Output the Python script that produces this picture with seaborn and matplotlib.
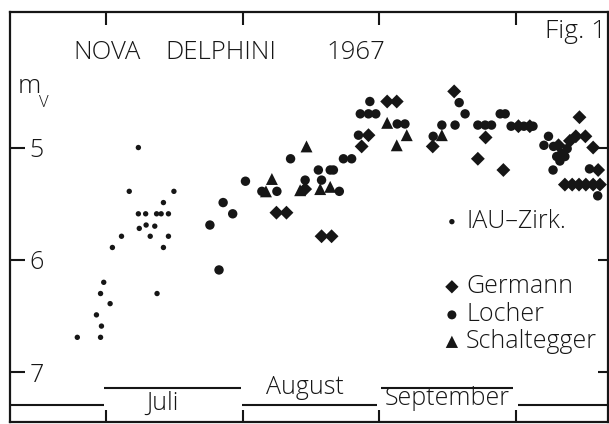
import matplotlib
matplotlib.use("Agg")
import matplotlib.pyplot as plt
import seaborn as sns
import pandas as pd

# ---------------- data (day scale: month ticks every 30 days) ----------------
month_ticks = [15, 45, 75, 105]
month_names = ["Juli", "August", "September"]
mag_ticks = [5, 6, 7]

iau_day = [22.1, 20.1, 29.9, 27.6, 22.1, 23.7, 26.1, 27.1, 28.7, 22.3, 23.8, 25.7,
           18.4, 24.7, 28.7, 16.4, 27.6, 14.5, 13.8, 26.2, 15.9, 12.9, 14.0, 8.7, 13.8]
iau_mag = [5.00, 5.39, 5.39, 5.49, 5.59, 5.59, 5.59, 5.59, 5.59, 5.72, 5.69, 5.70,
           5.79, 5.79, 5.79, 5.89, 5.89, 6.20, 6.30, 6.30, 6.39, 6.49, 6.59, 6.69, 6.69]

locher_day = [39.8, 37.8, 40.7, 42.8, 45.6, 52.5, 49.2, 55.5, 58.7, 62.3, 61.6, 64.2,
              64.9, 66.2, 67.1, 68.9, 70.4, 70.8, 72.6, 74.2, 72.9, 78.9, 80.6, 86.8,
              88.7, 91.6, 92.5, 93.8, 96.6, 98.2, 99.6, 101.5, 102.6, 103.9, 106.7, 108.7,
              112.1, 111.1, 113.2, 115.0, 115.7, 113.9, 114.6, 113.1, 121.1, 122.9, 116.2]
locher_mag = [6.09, 5.69, 5.49, 5.59, 5.30, 5.39, 5.39, 5.10, 5.29, 5.29, 5.20, 5.20,
              5.20, 5.39, 5.10, 5.10, 4.89, 4.70, 4.70, 4.70, 4.59, 4.79, 4.79, 4.90,
              4.80, 4.80, 4.60, 4.70, 4.80, 4.80, 4.80, 4.70, 4.70, 4.81, 4.81, 4.81,
              4.90, 4.98, 4.99, 5.05, 5.08, 5.08, 5.12, 5.20, 5.19, 5.43, 5.01]

germann_day = [52.4, 54.6, 62.3, 64.5, 58.7, 72.6, 71.1, 76.7, 78.8, 86.7, 91.4, 98.3,
               96.6, 102.2, 105.5, 108.0, 118.9, 118.1, 120.2, 121.9, 114.3, 116.8, 123.0,
               115.7, 117.3, 118.8, 120.3, 121.9, 123.4]
germann_mag = [5.58, 5.58, 5.79, 5.79, 5.37, 4.89, 4.99, 4.59, 4.59, 4.99, 4.50, 4.91,
               5.10, 5.20, 4.81, 4.81, 4.73, 4.90, 4.90, 5.00, 4.98, 4.94, 5.20,
               5.33, 5.33, 5.33, 5.33, 5.33, 5.33]

schalt_day = [51.4, 50.1, 57.6, 59.0, 62.0, 64.2, 76.7, 81.0, 78.8, 88.7]
schalt_mag = [5.28, 5.39, 5.38, 4.99, 5.37, 5.35, 4.78, 4.89, 4.98, 4.89]

# ---------------- style ----------------
sns.set_style("white")
plt.rcParams["font.family"] = ["Open Sans", "DejaVu Sans"]
INK = "#161616"
FW = "light"
FS = 18

fig = plt.figure(figsize=(6.09, 4.24), dpi=100)
ax = fig.add_axes([10 / 609, 2 / 424, 598 / 609, 410 / 424])

series = [
    ("IAU-Zirk.", iau_day, iau_mag, "o", 15),
    ("Locher", locher_day, locher_mag, "o", 46),
    ("Germann", germann_day, germann_mag, "D", 50),
    ("Schaltegger", schalt_day, schalt_mag, "^", 74),
]
for name, d, m, mk, s in series:
    df = pd.DataFrame({"day": d, "mag": m})
    sns.scatterplot(data=df, x="day", y="mag", marker=mk, s=s, color=INK,
                    edgecolor="none", linewidth=0, ax=ax, legend=False, zorder=3)

x0, x1 = -6.07, 125.16
ax.set_xlim(x0, x1)
ax.set_ylim(7.444, 3.793)
ax.set_xlabel("")
ax.set_ylabel("")

for sp in ax.spines.values():
    sp.set_visible(True)
    sp.set_linewidth(1.6)
    sp.set_color(INK)

ax.set_xticks(month_ticks)
ax.set_xticklabels([])
ax.tick_params(axis="x", which="major", direction="in", length=9, width=1.5,
               color=INK, top=True, bottom=True)
ax.set_yticks(mag_ticks)
ax.set_yticklabels([str(t) for t in mag_ticks])
ax.tick_params(axis="y", which="major", direction="in", length=11, width=1.5,
               color=INK, left=True, right=True, pad=-14, labelsize=FS,
               labelcolor=INK)
for lab in ax.get_yticklabels():
    lab.set_horizontalalignment("left")
    lab.set_fontweight(FW)
for t in ax.yaxis.get_major_ticks():
    t.tick2line.set_markersize(7)

# month band lines
low, high = 7.29, 7.14
ax.hlines(low, x0, 14.6, color=INK, lw=1.5)
ax.hlines(high, 14.6, 44.6, color=INK, lw=1.5)
ax.hlines(low, 44.8, 74.5, color=INK, lw=1.5)
ax.hlines(high, 75.3, 104.3, color=INK, lw=1.5)
ax.hlines(low, 105.4, x1, color=INK, lw=1.5)

tkw = dict(color=INK, fontweight=FW)
ax.text(27.3, 7.337, month_names[0], ha="center", va="baseline", fontsize=FS, **tkw)
ax.text(58.7, 7.195, month_names[1], ha="center", va="baseline", fontsize=FS, **tkw)
ax.text(89.8, 7.29, month_names[2], ha="center", va="baseline", fontsize=FS, **tkw)

# title texts
ax.text(7.76, 4.15, "NOVA", ha="left", va="center", fontsize=18.5, **tkw)
ax.text(27.95, 4.15, "DELPHINI", ha="left", va="center", fontsize=18.5, **tkw)
ax.text(63.28, 4.15, "1967", ha="left", va="center", fontsize=18.5, **tkw)
ax.text(111.3, 3.97, "Fig. 1", ha="left", va="center", fontsize=19, **tkw)
ax.text(-4.3, 4.515, "m", ha="left", va="baseline", fontsize=19, **tkw)
ax.text(0.3, 4.64, "V", ha="left", va="baseline", fontsize=12, **tkw)

# legend
key_x, txt_x = 90.9, 94.0
ax.scatter([key_x], [5.66], marker="o", s=15, color=INK, edgecolor="none")
ax.text(txt_x, 5.66, "IAU\u2013Zirk.", ha="left", va="center", fontsize=FS, **tkw)
for lbl, y, mk, s in [("Germann", 6.24, "D", 46), ("Locher", 6.49, "o", 42),
                      ("Schaltegger", 6.73, "^", 78)]:
    ax.scatter([key_x], [y], marker=mk, s=s, color=INK, edgecolor="none")
    ax.text(txt_x, y, lbl, ha="left", va="center", fontsize=FS, **tkw)

fig.savefig("out.png", dpi=100, facecolor="white")
